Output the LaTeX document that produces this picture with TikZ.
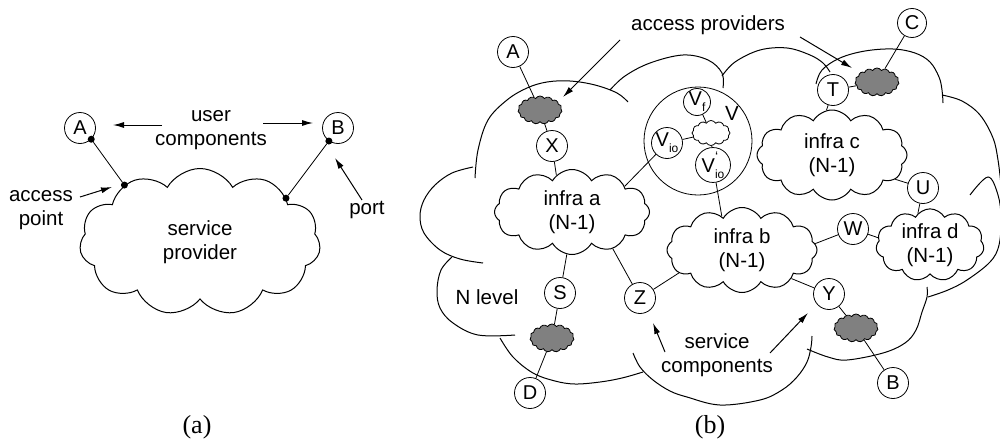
\documentclass[tikz,border=0pt]{standalone}
\usepackage{fontspec}
\setmainfont{Liberation Sans}
\newfontfamily\serifface{Liberation Serif}
\usetikzlibrary{shapes.symbols,arrows.meta}
\newcommand{\subtxt}[1]{\raisebox{-0.3em}{\fontsize{12}{12}\selectfont #1}}
\begin{document}
\begin{tikzpicture}[x=1pt,y=-1pt,
  lbl/.style={font=\fontsize{20.5}{24.5}\selectfont, align=center, inner sep=0pt},
  comp/.style={circle, draw, line width=0.8pt, minimum size=31pt, inner sep=0pt, font=\fontsize{20}{20}\selectfont},
  cl/.style={cloud, draw, line width=1pt, cloud ignores aspect, cloud puff arc=120, inner sep=0pt, align=center, font=\fontsize{20.5}{24.5}\selectfont},
  grayc/.style={cloud, draw, fill=gray, line width=0.8pt, cloud puffs=15, cloud puff arc=120, cloud ignores aspect, minimum width=44pt, minimum height=28pt, inner sep=0pt},
  conn/.style={line width=0.8pt},
  arr/.style={line width=1pt, -{Latex[length=11pt,width=6pt]}},
  lobe/.style={line width=1pt},
  dot/.style={circle, fill, inner sep=0pt, minimum size=7pt}
]
\useasboundingbox (0,0) rectangle (1000,439);

% ---------------- panel (a) ----------------
\node[cl, cloud puffs=11, minimum width=241pt, minimum height=147pt] (sp) at (200,242) {service\\provider};
\node[comp] (A1) at (80,128) {A};
\node[comp] (B1) at (338,128) {B};
\node[dot] (pa) at (sp.143) {};
\node[dot] (pb) at (sp.27) {};
\node[dot] (da) at (A1.-45) {};
\node[dot] (db) at (B1.-125) {};
\draw[conn] (da) -- (pa);
\draw[conn] (db) -- (pb);
\node[lbl] (uc) at (211,130) {user\\components};
\node[lbl] (ap) at (41,210) {access\\point};
\node[lbl] (port) at (367,210) {port};
\draw[arr] (162,125) -- (113,125);
\draw[arr] (263,123) -- (313,123);
\draw[arr] (80,197) -- (112,187);
\draw[arr] (362,200) -- (335,158);
\node[font=\serifface\fontsize{26}{26}\selectfont, inner sep=0pt] (capa) at (197,427) {(a)};

% ---------------- panel (b): big cloud ----------------
\draw[lobe] plot[smooth,tension=0.6] coordinates {(475,178) (478,150) (488,120) (507,100) (527,88) (547,82) (570,81) (595,85) (617,93) (628,102)};
\draw[lobe] plot[smooth,tension=0.6] coordinates {(473,167) (452,173) (435,185) (424,200) (420,216) (424,233) (440,250) (460,259) (483,263)};
\draw[lobe] plot[smooth,tension=0.6] coordinates {(452,257) (441,270) (437,290) (440,308) (453,323) (478,335) (515,335)};
\draw[lobe] plot[smooth,tension=0.6] coordinates {(500,338) (513,357) (533,373) (555,381) (575,384) (600,382) (622,378) (643,372)};
\draw[lobe] plot[smooth,tension=0.6] coordinates {(633,353) (640,367) (653,380) (670,391) (687,397) (720,405) (760,400) (782,390) (797,377) (807,362) (811,347) (812,336)};
\draw[lobe] plot[smooth,tension=0.6] coordinates {(807,349) (828,357) (847,360) (883,353) (905,343) (916,330) (922,312) (927,297) (927,287)};
\draw[lobe] plot[smooth,tension=0.6] coordinates {(970,195) (988,177) (998,195) (1001,218) (999,245) (990,262) (967,280) (948,290) (928,297)};
\draw[lobe] plot[smooth,tension=0.6] coordinates {(942,95) (962,101) (980,115) (993,138) (998,160) (1001,185)};
\draw[lobe] plot[smooth,tension=0.6] coordinates {(816,84) (822,70) (840,58) (865,51) (893,49) (915,53) (930,62) (939,77) (942,90) (943,103)};
\draw[lobe] plot[smooth,tension=0.6] coordinates {(722,76) (735,62) (760,50) (787,48) (810,55) (823,63) (830,72)};
\draw[lobe] plot[smooth,tension=0.6] coordinates {(610,90) (625,76) (650,63) (683,55) (708,60) (722,73) (723,88)};

% infra clouds
\node[cl, cloud puffs=12, minimum width=155pt, minimum height=85pt] (ia) at (572,212) {infra a\\(N-1)};
\node[cl, cloud puffs=12, minimum width=150pt, minimum height=85pt] (ib) at (742,250) {infra b\\(N-1)};
\node[cl, cloud puffs=12, minimum width=150pt, minimum height=90pt] (ic) at (832,155) {infra c\\(N-1)};
\node[cl, cloud puffs=11, minimum width=108pt, minimum height=65pt] (id) at (930,245) {infra d\\(N-1)};

% V
\node[circle, draw, line width=0.8pt, minimum size=108pt, inner sep=0pt] (V) at (698,141) {};
\node[lbl] (Vl) at (732,113) {V};
\node[cloud, draw, line width=0.8pt, cloud puffs=12, cloud puff arc=120, cloud ignores aspect, minimum width=38pt, minimum height=25pt, inner sep=0pt] (vc) at (711,133) {};
\node[comp, minimum size=27pt] (Vf) at (697,102) {V\subtxt{f}};
\node[comp] (Vio) at (667,143) {V\subtxt{io}};
\node[comp, minimum size=29pt] (Vio2) at (713,165) {V\rlap{\raisebox{0.55em}{\fontsize{14}{14}\selectfont ‘}}\subtxt{io}};

% components
\node[comp] (A2) at (513,52) {A};
\node[comp, minimum size=29pt] (C2) at (912,23) {C};
\node[comp] (X) at (552,146) {X};
\node[comp] (T) at (833,90) {T};
\node[comp] (U) at (923,188) {U};
\node[comp] (W) at (853,229) {W};
\node[comp] (Y) at (829,294) {Y};
\node[comp] (B2) at (893,383) {B};
\node[comp] (S) at (560,293) {S};
\node[comp] (Z) at (640,298) {Z};
\node[comp] (D) at (530,393) {D};

% access provider clouds
\node[grayc] (gA) at (540,110) {};
\node[grayc] (gC) at (877,82) {};
\node[grayc] (gD) at (552,338) {};
\node[grayc] (gB) at (856,328) {};

% connectors
\draw[conn] (A2) -- (gA);
\draw[conn] (gA) -- (X);
\draw[conn] (X) -- (ia.113);
\draw[conn] (C2) -- (gC);
\draw[conn] (gC) -- (T);
\draw[conn] (T) -- (ic.97);
\draw[conn] (Vf) -- (vc);
\draw[conn] (Vio) -- (vc);
\draw[conn] (vc) -- (Vio2);
\draw[conn] (Vio) -- (ia.26);
\draw[conn] (Vio2) -- (ib.121);
\draw[conn] (ic.-21) -- (U);
\draw[conn] (U) -- (id.111);
\draw[conn] (ib.5) -- (W);
\draw[conn] (W) -- (id.172);
\draw[conn] (ib.-30) -- (Y);
\draw[conn] (Y) -- (gB);
\draw[conn] (gB) -- (B2);
\draw[conn] (ia.-97) -- (S);
\draw[conn] (S) -- (gD);
\draw[conn] (gD) -- (D);
\draw[conn] (ia.-42) -- (Z);
\draw[conn] (Z) -- (ib.-160);

% labels and arrows
\node[lbl] (apv) at (708,25) {access providers};
\draw[arr] (620,40) -- (563,97);
\draw[arr] (800,37) -- (852,68);
\node[lbl] (sc) at (717,355) {service\\components};
\draw[arr] (665,352) -- (653,323);
\draw[arr] (770,353) -- (808,313);
\node[lbl] (nl) at (487,297) {N level};
\node[font=\serifface\fontsize{26}{26}\selectfont, inner sep=0pt] (capb) at (710,427) {(b)};
\end{tikzpicture}
\end{document}
